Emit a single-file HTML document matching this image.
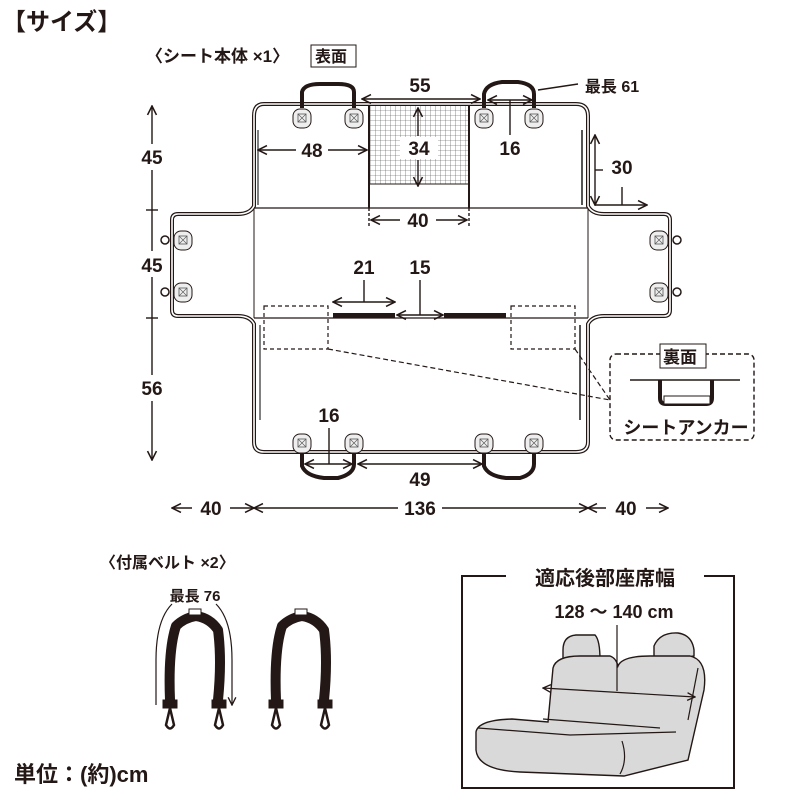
<!DOCTYPE html>
<html><head><meta charset="utf-8"><style>
html,body{margin:0;padding:0;background:#fff}
svg{display:block}
text{font-family:"Liberation Sans","Noto Sans CJK JP",sans-serif;font-weight:bold;fill:#231815}
</style></head><body>
<svg width="800" height="800" viewBox="0 0 800 800" xmlns="http://www.w3.org/2000/svg">
<defs>
<marker id="ar" viewBox="0 0 10 10" refX="9" refY="5" markerWidth="8" markerHeight="8" orient="auto-start-reverse"><path d="M1 1 L9 5 L1 9" fill="none" stroke="#231815" stroke-width="1.4"/></marker>
<pattern id="mesh" width="5" height="5" patternUnits="userSpaceOnUse"><path d="M0 0H5M0 0V5" stroke="#444" stroke-width="0.6"/></pattern>
<g id="pad"><rect x="-9" y="-9" width="18" height="19" rx="7" fill="#eee" stroke="#231815" stroke-width="1"/><rect x="-4" y="-4" width="8" height="8" fill="none" stroke="#555" stroke-width="0.8"/><path d="M-4 -4L4 4M4 -4L-4 4" stroke="#555" stroke-width="0.6"/></g>
</defs>
<text x="2" y="30" font-size="24">【サイズ】</text>
<text x="146" y="62" font-size="17">〈シート本体 ×1〉</text>
<rect x="311" y="45" width="45" height="22" fill="none" stroke="#231815"/>
<text x="315" y="62" font-size="16">表面</text>

<path d="M264 104 H576 Q588 104 588 116 V206 Q592 214 604 214 H664 Q670 214 670 220 V310 Q670 316 664 316 H604 Q592 316 588 324 V442 Q588 452 576 452 H264 Q254 452 254 442 V324 Q250 316 238 316 H178 Q172 316 172 310 V220 Q172 214 178 214 H238 Q250 214 254 206 V116 Q254 104 264 104Z" fill="none" stroke="#231815" stroke-width="4"/>
<path d="M264 104 H576 Q588 104 588 116 V206 Q592 214 604 214 H664 Q670 214 670 220 V310 Q670 316 664 316 H604 Q592 316 588 324 V442 Q588 452 576 452 H264 Q254 452 254 442 V324 Q250 316 238 316 H178 Q172 316 172 310 V220 Q172 214 178 214 H238 Q250 214 254 206 V116 Q254 104 264 104Z" fill="none" stroke="#fff" stroke-width="1.6"/>
<line x1="254" y1="208" x2="588" y2="208" stroke="#231815" stroke-width="1.2"/>
<line x1="254" y1="318" x2="588" y2="318" stroke="#231815" stroke-width="1.2"/>
<line x1="254" y1="208" x2="254" y2="318" stroke="#231815" stroke-width="1"/>
<line x1="588" y1="208" x2="588" y2="318" stroke="#231815" stroke-width="1"/>
<rect x="369" y="106" width="100" height="78" fill="url(#mesh)"/>
<line x1="369" y1="184" x2="469" y2="184" stroke="#231815"/>
<line x1="369" y1="106" x2="369" y2="208" stroke="#231815" stroke-width="2"/>
<line x1="469" y1="106" x2="469" y2="208" stroke="#231815" stroke-width="2"/>
<rect x="400" y="137" width="38" height="22" fill="#fff"/>
<rect x="333" y="313" width="62" height="5" fill="#231815"/>
<rect x="444" y="313" width="62" height="5" fill="#231815"/>
<line x1="582" y1="130" x2="582" y2="205" stroke="#555" stroke-width="2"/>
<line x1="258" y1="130" x2="258" y2="205" stroke="#555" stroke-width="1.5"/>
<line x1="580" y1="325" x2="580" y2="420" stroke="#555" stroke-width="2"/>
<line x1="260" y1="325" x2="260" y2="420" stroke="#555" stroke-width="1.5"/>
<use href="#pad" x="302" y="118"/><use href="#pad" x="354" y="118"/>
<use href="#pad" x="484" y="118"/><use href="#pad" x="534" y="118"/>
<use href="#pad" x="302" y="443"/><use href="#pad" x="354" y="443"/>
<use href="#pad" x="484" y="443"/><use href="#pad" x="534" y="443"/>
<use href="#pad" x="183" y="240"/><use href="#pad" x="183" y="292"/>
<use href="#pad" x="659" y="240"/><use href="#pad" x="659" y="292"/>
<circle cx="165" cy="240" r="4" fill="none" stroke="#231815" stroke-width="1.5"/><circle cx="165" cy="292" r="4" fill="none" stroke="#231815" stroke-width="1.5"/>
<circle cx="677" cy="240" r="4" fill="none" stroke="#231815" stroke-width="1.5"/><circle cx="677" cy="292" r="4" fill="none" stroke="#231815" stroke-width="1.5"/>
<path d="M302 108 V92 Q304 84 320 84 H338 Q354 84 354 92 V108" fill="none" stroke="#231815" stroke-width="4"/>
<path d="M484 108 V94 Q486 84 502 82 H518 Q534 84 534 94 V108" fill="none" stroke="#231815" stroke-width="4"/>
<path d="M302 453 V466 Q306 476 324 478 H338 Q354 474 354 464 V453" fill="none" stroke="#231815" stroke-width="4"/>
<path d="M484 453 V466 Q488 476 506 478 H520 Q534 474 534 464 V453" fill="none" stroke="#231815" stroke-width="4"/>
<g stroke="#231815" stroke-width="1.4" fill="none">
<line x1="362" y1="99" x2="480" y2="99" marker-start="url(#ar)" marker-end="url(#ar)"/>
<line x1="488" y1="100" x2="532" y2="100" marker-start="url(#ar)" marker-end="url(#ar)"/>
<line x1="510" y1="100" x2="510" y2="135"/>
<line x1="538" y1="90" x2="578" y2="84"/>
<line x1="258" y1="150" x2="296" y2="150" marker-start="url(#ar)"/>
<line x1="328" y1="150" x2="367" y2="150" marker-end="url(#ar)"/>
<line x1="418" y1="136" x2="418" y2="108" marker-end="url(#ar)"/>
<line x1="418" y1="160" x2="418" y2="186" marker-end="url(#ar)"/>
<line x1="369" y1="208" x2="369" y2="227" stroke-dasharray="3 2"/>
<line x1="469" y1="208" x2="469" y2="227" stroke-dasharray="3 2"/>
<line x1="371" y1="220" x2="400" y2="220" marker-start="url(#ar)"/>
<line x1="436" y1="220" x2="467" y2="220" marker-end="url(#ar)"/>
<line x1="595" y1="135" x2="595" y2="205" marker-start="url(#ar)" marker-end="url(#ar)"/>
<line x1="595" y1="170" x2="603" y2="170"/>
<line x1="595" y1="205" x2="647" y2="205" marker-end="url(#ar)"/>
<line x1="622" y1="187" x2="622" y2="205"/>
<line x1="333" y1="302" x2="395" y2="302" marker-start="url(#ar)" marker-end="url(#ar)"/>
<line x1="364" y1="280" x2="364" y2="302"/>
<line x1="397" y1="315" x2="443" y2="315" marker-start="url(#ar)" marker-end="url(#ar)"/>
<line x1="420" y1="280" x2="420" y2="315"/>
<line x1="305" y1="464" x2="352" y2="464" marker-start="url(#ar)" marker-end="url(#ar)"/>
<line x1="329" y1="428" x2="329" y2="464"/>
<line x1="358" y1="464" x2="482" y2="464" marker-start="url(#ar)" marker-end="url(#ar)"/>
<line x1="152" y1="106" x2="152" y2="460" marker-start="url(#ar)" marker-end="url(#ar)"/>
<line x1="146" y1="210" x2="158" y2="210"/><line x1="146" y1="318" x2="158" y2="318"/>
<line x1="172" y1="508" x2="192" y2="508" marker-start="url(#ar)"/>
<line x1="230" y1="508" x2="254" y2="508" marker-end="url(#ar)"/>
<line x1="254" y1="508" x2="398" y2="508" marker-start="url(#ar)"/>
<line x1="442" y1="508" x2="588" y2="508" marker-end="url(#ar)"/>
<line x1="588" y1="508" x2="606" y2="508" marker-start="url(#ar)"/>
<line x1="646" y1="508" x2="668" y2="508" marker-end="url(#ar)"/>
</g>
<rect x="138" y="144" width="28" height="26" fill="#fff"/>
<rect x="138" y="251" width="28" height="26" fill="#fff"/>
<rect x="138" y="375" width="28" height="26" fill="#fff"/>
<rect x="264" y="306" width="64" height="43" fill="none" stroke="#231815" stroke-dasharray="4 3" stroke-width="1.2"/>
<rect x="511" y="306" width="64" height="43" fill="none" stroke="#231815" stroke-dasharray="4 3" stroke-width="1.2"/>
<path d="M328 349 L610 400 M575 349 L610 400" stroke="#231815" stroke-dasharray="5 3" stroke-width="1.2" fill="none"/>
<rect x="610" y="354" width="144" height="86" rx="6" fill="#fff" stroke="#231815" stroke-dasharray="5 3" stroke-width="1.4"/>
<rect x="660" y="344" width="46" height="24" fill="#fff" stroke="#231815"/>
<text x="663" y="363" font-size="17">裏面</text>
<line x1="630" y1="380" x2="740" y2="380" stroke="#231815" stroke-width="1.4"/>
<path d="M660 380 V398 Q660 404 666 404 H706 Q712 404 712 398 V380" fill="none" stroke="#231815" stroke-width="4"/>
<rect x="664" y="396" width="46" height="8" fill="#fff" stroke="#231815"/>
<text x="686" y="434" font-size="18" text-anchor="middle" font-weight="normal">シートアンカー</text>

<g font-size="19" text-anchor="middle">
<text x="420" y="92">55</text>
<text x="612" y="92" font-size="16">最長 61</text>
<text x="510" y="155">16</text>
<text x="312" y="157">48</text>
<text x="419" y="155">34</text>
<text x="418" y="227">40</text>
<text x="622" y="174">30</text>
<text x="364" y="274">21</text>
<text x="420" y="274">15</text>
<text x="329" y="422">16</text>
<text x="420" y="486">49</text>
<text x="152" y="164">45</text>
<text x="152" y="272">45</text>
<text x="152" y="395">56</text>
<text x="211" y="515">40</text>
<text x="420" y="515">136</text>
<text x="626" y="515">40</text>
</g>

<text x="100" y="568" font-size="16">〈付属ベルト ×2〉</text>
<text x="195" y="601" font-size="15" text-anchor="middle">最長 76</text>
<path d="M172 604 Q156 620 156 660 V705 M216 604 Q232 620 232 660 V705" fill="none" stroke="#231815" stroke-width="1.2" marker-end="url(#ar)"/>
<g id="belt" stroke="#231815" fill="none">
<path d="M170 700 Q168 650 176 626 Q184 618 196 616 Q210 618 218 630 Q222 660 218 700" stroke-width="10" stroke-linejoin="round"/>
<rect x="189" y="609" width="12" height="6" fill="#fff" stroke-width="1"/>
<rect x="163" y="700" width="14" height="8" fill="#231815"/><rect x="212" y="700" width="14" height="8" fill="#231815"/>
<path d="M170 708 L166 725 Q170 732 174 725 Z M219 708 L215 725 Q219 732 223 725Z" stroke-width="2.5"/>
</g>
<use href="#belt" x="106"/>

<path d="M506 576 H462 V788 H734 V576 H704" fill="none" stroke="#231815" stroke-width="2"/>
<text x="605" y="585" font-size="20" text-anchor="middle">適応後部座席幅</text>
<text x="614" y="618" font-size="18" text-anchor="middle">128 ～ 140 cm</text>
<g stroke="#231815" stroke-width="1.4" fill="#d9d9d9">
<path d="M563 663 V650 Q563 636 576 635 H595 Q600 640 600 660Z"/>
<path d="M654 663 V646 Q660 632 678 633 Q692 635 694 650 V656Z"/>
<path d="M548 722 L553 668 Q556 656 580 656 H610 Q616 658 618 666 Q622 656 650 656 H690 Q708 660 704 690 L688 760 L624 776 L520 772 Q478 770 476 750 V732 Q478 720 512 719Z"/>
</g>
<g stroke="#231815" stroke-width="1.2" fill="none">
<path d="M478 728 L570 735 L676 732"/>
<path d="M543 719 L660 728"/>
<path d="M622 741 Q628 760 620 774"/>
<path d="M698 668 L688 720"/>
<line x1="617" y1="625" x2="617" y2="691"/>
<line x1="543" y1="688" x2="695" y2="697" marker-start="url(#ar)" marker-end="url(#ar)"/>
</g>
<text x="14" y="782" font-size="22">単位：(約)cm</text>
</svg>
</body></html>
